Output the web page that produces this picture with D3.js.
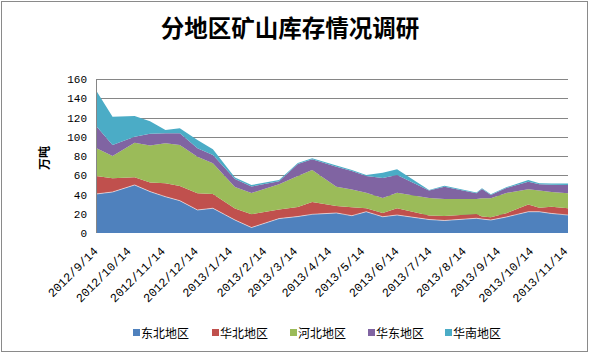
<!DOCTYPE html>
<html>
<head>
<meta charset="utf-8">
<script src="https://cdn.jsdelivr.net/npm/d3@7"></script>
<style>
    body { margin: 0; background: #fff; }
</style>
</head>
<body>
<div id="chart"></div>
<script>
// Data
const dates = ['2012/9/14', '2012/9/29', '2012/10/19', '2012/11/2', '2012/11/16', '2012/11/29',
    '2012/12/15', '2012/12/29', '2013/1/18', '2013/2/2', '2013/2/27', '2013/3/16', '2013/3/29',
    '2013/4/20', '2013/5/4', '2013/5/17', '2013/6/1', '2013/6/14', '2013/7/13', '2013/7/27',
    '2013/8/25', '2013/8/30', '2013/9/7', '2013/9/21', '2013/10/11', '2013/10/21', '2013/11/1', '2013/11/16'];
const dongbei = [40.5, 42.6, 49.9, 43.0, 37.7, 33.6, 23.9, 25.7, 13.5, 5.7, 15.0, 17.1, 19.4, 20.8,
    18.0, 22.1, 16.9, 18.7, 14.0, 13.0, 15.3, 14.5, 13.5, 16.6, 22.1, 22.1, 20.3, 18.7];
const huabei = [18.7, 14.2, 8.0, 9.5, 13.9, 15.2, 17.3, 14.8, 12.0, 13.8, 9.4, 9.9, 12.8, 7.2,
    8.8, 3.6, 3.9, 7.0, 4.2, 4.7, 4.4, 2.6, 2.8, 3.9, 7.5, 4.2, 7.0, 7.0];
const hebei = [29.1, 23.2, 35.9, 38.5, 41.6, 42.6, 38.1, 31.9, 22.3, 22.1, 26.3, 32.2, 33.3, 20.1,
    18.4, 16.2, 15.6, 16.2, 18.2, 17.6, 15.6, 18.9, 19.7, 21.1, 15.8, 17.9, 15.3, 15.5];
const huadong = [23.0, 11.4, 6.2, 12.0, 10.4, 12.2, 8.7, 8.6, 8.2, 6.7, 3.1, 12.5, 11.1, 20.8,
    19.2, 17.3, 20.7, 18.4, 7.8, 12.8, 5.9, 9.7, 3.5, 5.2, 7.9, 6.4, 7.6, 8.7];
const huanan = [37.0, 29.4, 21.6, 13.0, 3.4, 5.2, 8.6, 6.0, 1.7, 1.6, 1.2, 1.0, 1.0, 1.2,
    1.1, 1.1, 5.5, 5.9, 0.5, 1.0, 0.9, 0.7, 0.7, 0.7, 1.7, 1.0, 1.2, 1.5];
const seriesNames = ['东北地区', '华北地区', '河北地区', '华东地区', '华南地区'];
const tickLabels = ['2012/9/14', '2012/10/14', '2012/11/14', '2012/12/14', '2013/1/14', '2013/2/14',
    '2013/3/14', '2013/4/14', '2013/5/14', '2013/6/14', '2013/7/14', '2013/8/14', '2013/9/14',
    '2013/10/14', '2013/11/14'];
const yTicks = [0, 20, 40, 60, 80, 100, 120, 140, 160];

const colors = ['#4F81BD', '#C0504D', '#9BBB59', '#8064A2', '#4BACC6'];
const parse = d3.timeParse('%Y/%m/%d');

// Build rows for the stack
const seriesValues = [dongbei, huabei, hebei, huadong, huanan];
const rows = dates.map((d, i) => {
    const row = { date: parse(d) };
    seriesNames.forEach((name, k) => { row[name] = seriesValues[k][i]; });
    return row;
});

const W = 591, H = 354;
const plot = { left: 96, right: 568, top: 79, bottom: 233 };

const svg = d3.select('#chart')
    .append('svg')
    .attr('width', W)
    .attr('height', H);

// outer frame
svg.append('rect')
    .attr('x', 1.5).attr('y', 1.5)
    .attr('width', 586).attr('height', 350)
    .attr('fill', '#fff')
    .attr('stroke', '#8a8a8a');

const x = d3.scaleTime()
    .domain([parse('2012/9/14'), parse('2013/11/16')])
    .range([plot.left, plot.right]);

const y = d3.scaleLinear()
    .domain([0, 160])
    .range([plot.bottom, plot.top]);

// Title
svg.append('text')
    .attr('x', 290).attr('y', 37)
    .attr('text-anchor', 'middle')
    .style('font-family', '"Noto Sans CJK SC", sans-serif')
    .style('font-weight', 'bold')
    .style('font-size', '23.5px')
    .text('分地区矿山库存情况调研');

// Gridlines
svg.append('g')
    .selectAll('line')
    .data(yTicks.slice(1))
    .join('line')
        .attr('x1', plot.left).attr('x2', plot.right)
        .attr('y1', d => Math.round(y(d)) + 0.5)
        .attr('y2', d => Math.round(y(d)) + 0.5)
        .attr('stroke', '#868686');

// Stacked areas
const stack = d3.stack().keys(seriesNames);
const layers = stack(rows);

const area = d3.area()
    .x(d => x(d.data.date))
    .y0(d => y(d[0]))
    .y1(d => y(d[1]));

svg.append('g')
    .selectAll('path')
    .data(layers)
    .join('path')
        .attr('d', area)
        .attr('fill', (d, i) => colors[i]);

// faint light edge on top of the first layer
svg.append('path')
    .datum(layers[0])
    .attr('d', d3.line().x(d => x(d.data.date)).y(d => y(d[1])))
    .attr('fill', 'none')
    .attr('stroke', 'rgba(255,255,255,0.55)')
    .attr('stroke-width', 1);

// Y axis
const yAxis = svg.append('g')
    .attr('transform', `translate(${plot.left},0)`)
    .call(d3.axisLeft(y).tickValues(yTicks).tickSize(0).tickPadding(9));
yAxis.select('.domain').attr('stroke', '#868686').attr('d', `M0.5,${plot.top}V${plot.bottom}`);
yAxis.selectAll('text')
    .style('font-family', '"Liberation Mono", monospace')
    .style('font-size', '11px')
    .attr('fill', '#000');

// Y axis title
svg.append('text')
    .attr('transform', 'translate(49,158) rotate(-90)')
    .attr('text-anchor', 'middle')
    .style('font-family', '"Noto Sans CJK SC", sans-serif')
    .style('font-weight', 'bold')
    .style('font-size', '12px')
    .text('万吨');

// X axis labels
const xAxis = svg.append('g')
    .attr('transform', `translate(0,${plot.bottom})`)
    .call(d3.axisBottom(x).tickValues(tickLabels.map(parse)).tickSize(0).tickFormat(d3.timeFormat('%Y/%-m/%-d')));
xAxis.select('.domain').remove();
xAxis.selectAll('text')
    .attr('text-anchor', 'end')
    .attr('dy', 0)
    .attr('y', 0)
    .attr('transform', 'translate(2,19) rotate(-45)')
    .style('font-family', '"Liberation Mono", monospace')
    .style('font-size', '12px')
    .attr('fill', '#000');

// Legend
const legendX = [133, 212, 290, 368, 445];
const legend = svg.append('g')
    .selectAll('g')
    .data(seriesNames)
    .join('g')
        .attr('transform', (d, i) => `translate(${legendX[i]},333)`);
legend.append('rect')
    .attr('x', 0).attr('y', -4)
    .attr('width', 7).attr('height', 7)
    .attr('fill', (d, i) => colors[i]);
legend.append('text')
    .attr('x', 8).attr('y', 5)
    .style('font-family', '"Noto Sans CJK SC", sans-serif')
    .style('font-size', '12px')
    .text(d => d);
</script>
</body>
</html>
